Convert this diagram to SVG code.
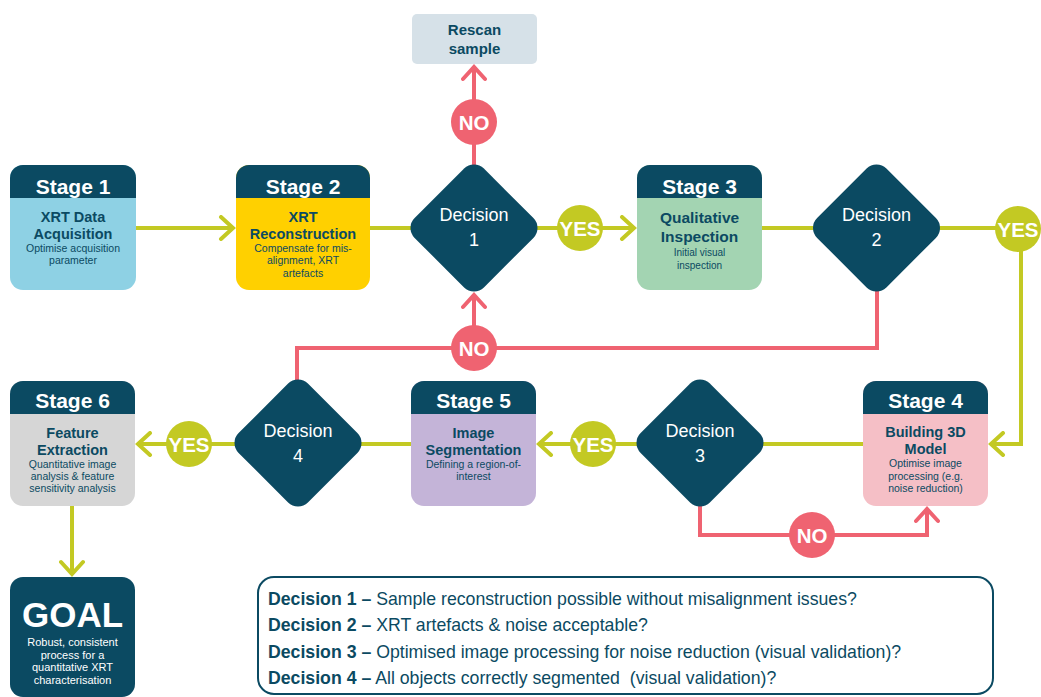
<svg xmlns="http://www.w3.org/2000/svg" width="1041" height="697" viewBox="0 0 1041 697">
<style>
text{font-family:"Liberation Sans",Arial,sans-serif;text-anchor:middle}
.hdr{fill:#0b4a62}
.ht{fill:#fff;font-weight:bold;font-size:21px}
.tt{fill:#0b4a62;font-weight:bold;font-size:14.5px}
.st{fill:#0b4a62;font-size:10.5px}
.dt{fill:#fff;font-size:18px}
.lbl{fill:#fff;font-weight:bold;font-size:20.5px}
.g{stroke:#c3c923;stroke-width:4;fill:none;stroke-linejoin:miter}
.r{stroke:#ef6371;stroke-width:4;fill:none}
.yes{fill:#c3c923}
.no{fill:#ef6371}
.lg{fill:#0b4a62;font-size:17.7px;text-anchor:start;white-space:pre}
.lg tspan.b{font-weight:bold}
.gs{fill:#fff;font-size:11px}
</style>
<defs>
<marker id="ag" markerUnits="userSpaceOnUse" markerWidth="18" markerHeight="26" viewBox="0 0 18 26" refX="15" refY="13" orient="auto">
<path d="M3,2 L15,13 L3,24" fill="none" stroke="#c3c923" stroke-width="4" stroke-linecap="round" stroke-linejoin="miter"/>
</marker>
<marker id="ar" markerUnits="userSpaceOnUse" markerWidth="18" markerHeight="26" viewBox="0 0 18 26" refX="15" refY="13" orient="auto">
<path d="M3,2 L15,13 L3,24" fill="none" stroke="#ef6371" stroke-width="4" stroke-linecap="round" stroke-linejoin="miter"/>
</marker>
</defs>

<g id="connectors">
<path class="g" d="M136,228 H233" marker-end="url(#ag)"/>
<path class="g" d="M370,228 H412"/>
<path class="g" d="M536,228 H634" marker-end="url(#ag)"/>
<path class="g" d="M762,228 H815"/>
<path class="g" d="M938,228 H1021 V444 H991" marker-end="url(#ag)"/>
<path class="g" d="M863,444 H762"/>
<path class="g" d="M638,444 H539" marker-end="url(#ag)"/>
<path class="g" d="M411,444 H360"/>
<path class="g" d="M236,444 H138" marker-end="url(#ag)"/>
<path class="g" d="M72,506 V574" marker-end="url(#ag)"/>
<path class="r" d="M474,166 V67" marker-end="url(#ar)"/>
<path class="r" d="M877,290 V348 H297 V382"/>
<path class="r" d="M474,348 V295" marker-end="url(#ar)"/>
<path class="r" d="M700,505 V535 H927 V509" marker-end="url(#ar)"/>
</g>

<g id="rescan">
<rect x="412" y="14" width="125" height="50" rx="5" fill="#d6e1e8"/>
<text x="474.5" y="35" class="tt" style="font-size:15px">Rescan</text>
<text x="474.5" y="54" class="tt" style="font-size:15px">sample</text>
</g>

<g id="stage1">
<rect x="10" y="165" width="126" height="125" rx="13" fill="#8ed1e4"/>
<path class="hdr" d="M10,198 V178 A13,13 0 0 1 23,165 H123 A13,13 0 0 1 136,178 V198 Z"/>
<text x="73" y="194" class="ht">Stage 1</text>
<text x="73" y="222" class="tt">XRT Data</text>
<text x="73" y="239" class="tt">Acquisition</text>
<text x="73" y="252" class="st">Optimise acquisition</text>
<text x="73" y="264" class="st">parameter</text>
</g>

<g id="stage2">
<rect x="236" y="165" width="134" height="125" rx="13" fill="#ffd000"/>
<path class="hdr" d="M236,198 V178 A13,13 0 0 1 249,165 H357 A13,13 0 0 1 370,178 V198 Z"/>
<text x="303" y="194" class="ht">Stage 2</text>
<text x="303" y="222" class="tt">XRT</text>
<text x="303" y="239" class="tt">Reconstruction</text>
<text x="303" y="252" class="st">Compensate for mis-</text>
<text x="303" y="264" class="st">alignment, XRT</text>
<text x="303" y="277" class="st">artefacts</text>
</g>

<g id="stage3">
<rect x="637" y="165" width="125" height="125" rx="13" fill="#a3d4b2"/>
<path class="hdr" d="M637,198 V178 A13,13 0 0 1 650,165 H749 A13,13 0 0 1 762,178 V198 Z"/>
<text x="699.5" y="194" class="ht">Stage 3</text>
<text x="699.5" y="223" class="tt" style="font-size:15.5px">Qualitative</text>
<text x="699.5" y="242" class="tt" style="font-size:15.5px">Inspection</text>
<text x="699.5" y="256" class="st" style="font-size:10px">Initial visual</text>
<text x="699.5" y="269" class="st" style="font-size:10px">inspection</text>
</g>

<g id="stage4">
<rect x="863" y="381" width="125" height="125" rx="13" fill="#f5bfc6"/>
<path class="hdr" d="M863,414 V394 A13,13 0 0 1 876,381 H975 A13,13 0 0 1 988,394 V414 Z"/>
<text x="925.5" y="408" class="ht">Stage 4</text>
<text x="925.5" y="437" class="tt">Building 3D</text>
<text x="925.5" y="454" class="tt">Model</text>
<text x="925.5" y="467" class="st">Optimise image</text>
<text x="925.5" y="480" class="st">processing (e.g.</text>
<text x="925.5" y="492" class="st">noise reduction)</text>
</g>

<g id="stage5">
<rect x="411" y="381" width="125" height="125" rx="13" fill="#c4b4d8"/>
<path class="hdr" d="M411,414 V394 A13,13 0 0 1 424,381 H523 A13,13 0 0 1 536,394 V414 Z"/>
<text x="473.5" y="408" class="ht">Stage 5</text>
<text x="473.5" y="438" class="tt">Image</text>
<text x="473.5" y="455" class="tt">Segmentation</text>
<text x="473.5" y="468" class="st">Defining a region-of-</text>
<text x="473.5" y="480" class="st">interest</text>
</g>

<g id="stage6">
<rect x="10" y="381" width="125" height="125" rx="13" fill="#d6d6d6"/>
<path class="hdr" d="M10,414 V394 A13,13 0 0 1 23,381 H122 A13,13 0 0 1 135,394 V414 Z"/>
<text x="72.5" y="408" class="ht">Stage 6</text>
<text x="72.5" y="438" class="tt">Feature</text>
<text x="72.5" y="455" class="tt">Extraction</text>
<text x="72.5" y="468" class="st">Quantitative image</text>
<text x="72.5" y="480" class="st">analysis &amp; feature</text>
<text x="72.5" y="492" class="st">sensitivity analysis</text>
</g>

<g id="goal">
<rect x="10" y="577" width="125" height="120" rx="13" fill="#0b4a62"/>
<text x="72.5" y="627" style="fill:#fff;font-weight:bold;font-size:35px">GOAL</text>
<text x="72.5" y="646" class="gs">Robust, consistent</text>
<text x="72.5" y="659" class="gs">process for a</text>
<text x="72.5" y="671" class="gs">quantitative XRT</text>
<text x="72.5" y="684" class="gs">characterisation</text>
</g>

<g id="decision1">
<rect x="-49" y="-49" width="98" height="98" rx="14" fill="#0b4a62" transform="translate(474,228) rotate(45)"/>
<text x="474" y="221" class="dt">Decision</text>
<text x="474" y="246" class="dt">1</text>
</g>
<g id="decision2">
<rect x="-49" y="-49" width="98" height="98" rx="14" fill="#0b4a62" transform="translate(876.5,228) rotate(45)"/>
<text x="876.5" y="221" class="dt">Decision</text>
<text x="876.5" y="246" class="dt">2</text>
</g>
<g id="decision3">
<rect x="-49" y="-49" width="98" height="98" rx="14" fill="#0b4a62" transform="translate(700,443) rotate(45)"/>
<text x="700" y="437" class="dt">Decision</text>
<text x="700" y="462" class="dt">3</text>
</g>
<g id="decision4">
<rect x="-49" y="-49" width="98" height="98" rx="14" fill="#0b4a62" transform="translate(298,443) rotate(45)"/>
<text x="298" y="437" class="dt">Decision</text>
<text x="298" y="462" class="dt">4</text>
</g>

<g id="yes1"><circle cx="580" cy="228" r="23" class="yes"/><text x="580" y="235.5" class="lbl">YES</text></g>
<g id="yes2"><circle cx="1018" cy="229" r="23" class="yes"/><text x="1018" y="236.5" class="lbl">YES</text></g>
<g id="yes3"><circle cx="593" cy="444" r="23" class="yes"/><text x="593" y="451.5" class="lbl">YES</text></g>
<g id="yes4"><circle cx="189" cy="444" r="23" class="yes"/><text x="189" y="451.5" class="lbl">YES</text></g>
<g id="no1"><circle cx="474" cy="122" r="23" class="no"/><text x="474" y="129.5" class="lbl">NO</text></g>
<g id="no2"><circle cx="474" cy="348" r="23" class="no"/><text x="474" y="355.5" class="lbl">NO</text></g>
<g id="no3"><circle cx="812" cy="535" r="23" class="no"/><text x="812" y="542.5" class="lbl">NO</text></g>

<g id="legend">
<rect x="258" y="577" width="735" height="117" rx="16" fill="#fff" stroke="#0b4a62" stroke-width="2"/>
<text x="268" y="605" class="lg"><tspan class="b">Decision 1 –</tspan> Sample reconstruction possible without misalignment issues?</text>
<text x="268" y="631" class="lg"><tspan class="b">Decision 2 –</tspan> XRT artefacts &amp; noise acceptable?</text>
<text x="268" y="658" class="lg"><tspan class="b">Decision 3 –</tspan> Optimised image processing for noise reduction (visual validation)?</text>
<text x="268" y="684" class="lg"><tspan class="b">Decision 4 –</tspan> All objects correctly segmented  (visual validation)?</text>
</g>
</svg>
